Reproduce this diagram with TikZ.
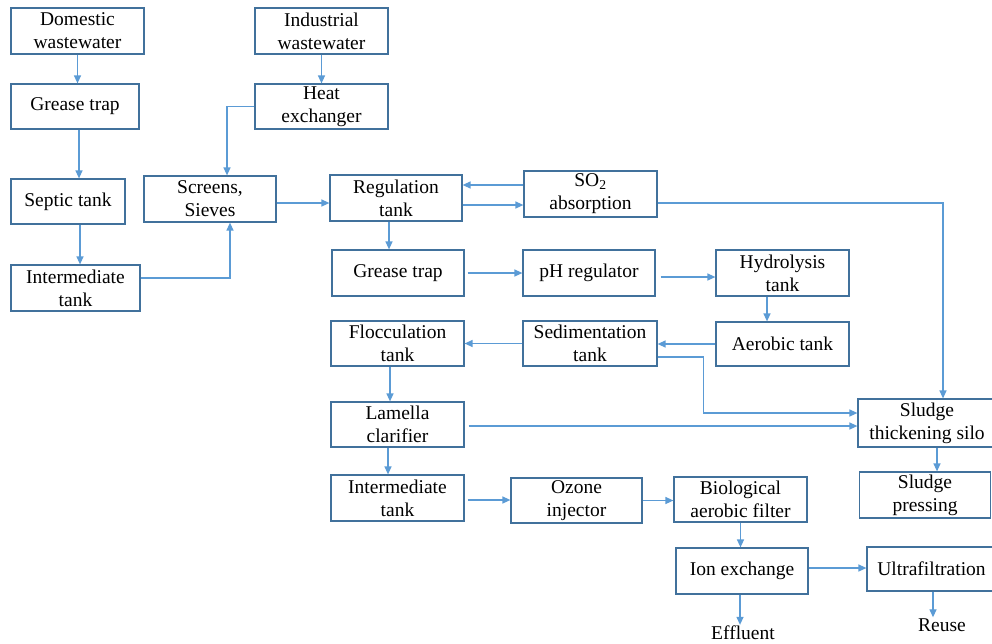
\documentclass[tikz,border=0pt]{standalone}
\usepackage{fontspec}
\setmainfont{Liberation Serif}
\usetikzlibrary{arrows.meta}
\definecolor{boxline}{HTML}{41719C}
\definecolor{flow}{HTML}{5B9BD5}
\begin{document}
\begin{tikzpicture}[x=1pt,y=-1pt,
  unit/.style={draw=boxline, line width=1.2pt, fill=white, align=center,
    inner sep=0pt, font=\fontsize{19.5}{23}\selectfont},
  lbl/.style={align=center, inner sep=1pt, font=\fontsize{19.5}{23}\selectfont},
  arr/.style={draw=flow, line width=1.3pt,
    -{Triangle[length=8pt,width=7pt]}}]
\useasboundingbox (0,0) rectangle (992,643);

% process units
\node[unit, minimum width=133pt, minimum height=46pt] (dom) at (77.5,31) {Domestic\\wastewater};
\node[unit, minimum width=128pt, minimum height=45pt] (gt1) at (75,106.5) {Grease trap};
\node[unit, minimum width=114pt, minimum height=45pt] (sep) at (68,201.5) {Septic tank};
\node[unit, minimum width=129pt, minimum height=46pt] (int1) at (75.5,288) {Intermediate\\tank};
\node[unit, minimum width=133pt, minimum height=46pt] (ind) at (321.5,31) {Industrial\\wastewater};
\node[unit, minimum width=133pt, minimum height=45pt] (hex) at (321.5,106.5) {Heat\\exchanger};
\node[unit, minimum width=132pt, minimum height=46pt] (scr) at (210,199) {Screens,\\Sieves};
\node[unit, minimum width=132pt, minimum height=46pt] (reg) at (396,198) {Regulation\\tank};
\node[unit, minimum width=133pt, minimum height=46pt] (so2) at (590.5,194) {SO\textsubscript{2}\\absorption};
\node[unit, minimum width=132pt, minimum height=46pt] (gt2) at (398,273) {Grease trap};
\node[unit, minimum width=132pt, minimum height=46pt] (ph) at (589,273) {pH regulator};
\node[unit, minimum width=133pt, minimum height=46pt] (hyd) at (782.5,273) {Hydrolysis\\tank};
\node[unit, minimum width=133pt, minimum height=45pt] (flo) at (397.5,343.5) {Flocculation\\tank};
\node[unit, minimum width=134pt, minimum height=45pt] (sed) at (590,343.5) {Sedimentation\\tank};
\node[unit, minimum width=133pt, minimum height=44pt] (aer) at (782.5,344) {Aerobic tank};
\node[unit, minimum width=133pt, minimum height=45pt] (lam) at (397.5,424.5) {Lamella\\clarifier};
\node[unit, minimum width=138pt, minimum height=48pt] (silo) at (927,423) {Sludge\\thickening silo};
\node[unit, minimum width=133pt, minimum height=46pt] (int2) at (397.5,498) {Intermediate\\tank};
\node[unit, minimum width=131pt, minimum height=45pt] (ozo) at (576.5,500.5) {Ozone\\injector};
\node[unit, minimum width=133pt, minimum height=45pt] (bio) at (740.5,499.5) {Biological\\aerobic filter};
\node[unit, minimum width=131pt, minimum height=46pt] (prs) at (925,495) {Sludge\\pressing};
\node[unit, minimum width=132pt, minimum height=46pt] (ion) at (742,571) {Ion exchange};
\node[unit, minimum width=129pt, minimum height=44pt] (ult) at (931.5,569) {Ultrafiltration};
\node[lbl] (eff) at (743,633) {Effluent};
\node[lbl] (reu) at (942,625) {Reuse};

% domestic line
\draw[arr] (dom.south) -- (dom.south |- gt1.north);
\draw[arr] ([xshift=4pt]gt1.south) -- ([xshift=4pt]gt1.south |- sep.north);
\draw[arr] ([xshift=12pt]sep.south) -- ([xshift=12pt]sep.south |- int1.north);
\draw[arr] ([yshift=10pt]int1.east) -| ([xshift=20pt]scr.south);

% industrial line
\draw[arr] (ind.south) -- (hex.north);
\draw[arr] (hex.west) -| ([xshift=17pt]scr.north);

% main treatment train
\draw[arr] ([yshift=-4pt]scr.east) coordinate (a1) -- (a1 -| reg.west);
\draw[arr] ([yshift=9pt]so2.west) coordinate (a2) -- (a2 -| reg.east);
\draw[arr] ([yshift=-7pt]reg.east) coordinate (a3) -- (a3 -| so2.west);
\draw[arr] ([xshift=-7pt]reg.south) coordinate (a4) -- (a4 |- gt2.north);
\draw[arr] ([xshift=3pt]gt2.east) coordinate (a5) -- (a5 -| ph.west);
\draw[arr] ([xshift=5pt,yshift=-4pt]ph.east) coordinate (a6) -- (a6 -| hyd.west);
\draw[arr] ([xshift=-15.5pt]hyd.south) coordinate (a7) -- (a7 |- aer.north);
\draw[arr] (aer.west) -- (aer.west -| sed.east);
\draw[arr] (sed.west) -- (sed.west -| flo.east);
\draw[arr] ([xshift=-7.5pt]flo.south) coordinate (a8) -- (a8 |- lam.north);
\draw[arr] ([xshift=-9.5pt]lam.south) coordinate (a9) -- (a9 |- int2.north);
\draw[arr] ([xshift=3pt,yshift=-2pt]int2.east) coordinate (b1) -- (b1 -| ozo.west);
\draw[arr] (ozo.east) -- (ozo.east -| bio.west);
\draw[arr] (bio.south) -- (bio.south |- ion.north);
\draw[arr] ([yshift=3pt]ion.east) coordinate (b2) -- (b2 -| ult.west);
\draw[arr] ([xshift=-2pt]ion.south) coordinate (b3) -- (b3 |- eff.north);
\draw[arr] ([xshift=1.5pt]ult.south) coordinate (b4) -- (b4 |- reu.north);

% sludge line
\draw[arr] ([yshift=-9pt]so2.east) -| ([xshift=16pt]silo.north);
\draw[arr] ([yshift=-13.5pt]sed.east) -- ++(46,0) |- ([yshift=10pt]silo.west);
\draw[arr] ([xshift=4pt,yshift=-1.5pt]lam.east) coordinate (b5) -- (b5 -| silo.west);
\draw[arr] ([xshift=10pt]silo.south) coordinate (b6) -- (b6 |- prs.north);
\end{tikzpicture}
\end{document}
